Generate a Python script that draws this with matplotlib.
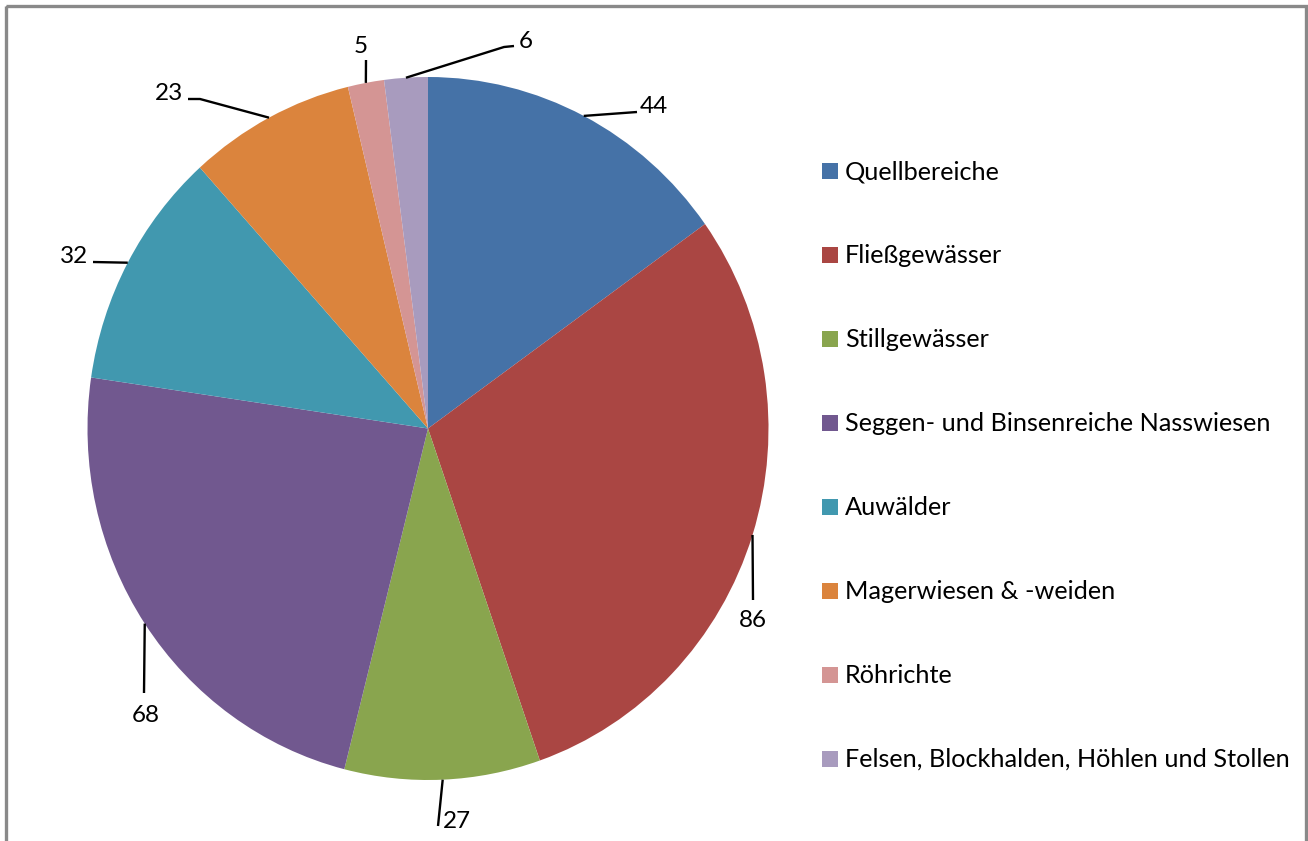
import numpy as np
import matplotlib
matplotlib.use("Agg")
import matplotlib.pyplot as plt
from matplotlib.patches import Rectangle

# ---- data ----
categories = [
    "Quellbereiche",
    "Fließgewässer",
    "Stillgewässer",
    "Seggen- und Binsenreiche Nasswiesen",
    "Auwälder",
    "Magerwiesen & -weiden",
    "Röhrichte",
    "Felsen, Blockhalden, Höhlen und Stollen",
]
values = [44, 86, 27, 68, 32, 23, 5, 6]
colors = ["#4572A7", "#AA4643", "#89A54E", "#71588F",
          "#4198AF", "#DB843D", "#D49594", "#A89BBE"]

# ---- layout (pixel coordinates, origin top-left) ----
W, H = 1308, 841
CX, CY, RX, RY = 428, 428.5, 340.5, 351.5
FONT = "Lato"
FS_LEG = 18.2
FS_LAB = 17.5

# label leader layout: (extra elbow points..., end point), text pos, ha
label_layout = [
    ([(637, 112)], (640, 113), "left"),
    ([(753, 600)], (753, 627), "center"),
    ([(438, 826)], (443, 828), "left"),
    ([(144, 693)], (146, 722), "center"),
    ([(93, 262)], (88, 263), "right"),
    ([(200, 99), (188, 99)], (183, 100), "right"),
    ([(366, 60)], (361, 53), "center"),
    ([(504, 47), (514, 46)], (519, 48), "left"),
]

fig = plt.figure(figsize=(W / 100, H / 100), dpi=100)
fig.patch.set_facecolor("white")

# pie axes (slightly stretched vertically like the reference)
ax = fig.add_axes([(CX - RX) / W, (H - CY - RY) / H, 2 * RX / W, 2 * RY / H])
wedges, _ = ax.pie(values, colors=colors, startangle=90, counterclock=False,
                   radius=1, wedgeprops=dict(linewidth=0, antialiased=True))
ax.set_aspect("auto")
ax.set_xlim(-1, 1)
ax.set_ylim(-1, 1)
ax.axis("off")

# overlay axes in pixel coords
ov = fig.add_axes([0, 0, 1, 1], zorder=5)
ov.set_xlim(0, W)
ov.set_ylim(H, 0)
ov.axis("off")
ov.patch.set_alpha(0)

# frame border
ov.add_patch(Rectangle((6, 6), 1300, 900, fill=False, edgecolor="#898989",
                       linewidth=2.4, clip_on=False))

# data labels with leader lines
for w, v, (pts, tpos, ha) in zip(wedges, values, label_layout):
    mid = np.deg2rad((w.theta1 + w.theta2) / 2)
    ax_x, ax_y = w.r * np.cos(mid), w.r * np.sin(mid)
    px = CX + RX * ax_x
    py = CY - RY * ax_y
    xs = [px] + [p[0] for p in pts]
    ys = [py] + [p[1] for p in pts]
    ov.plot(xs, ys, color="black", linewidth=1.7, solid_capstyle="butt")
    ov.text(tpos[0], tpos[1], str(v), ha=ha, va="baseline",
            fontsize=FS_LAB, family=FONT, color="black")

# legend
leg_x, leg_y0, leg_dy, sq = 822, 163, 84, 16
for i, (c, name) in enumerate(zip(colors, categories)):
    y = leg_y0 + i * leg_dy
    ov.add_patch(Rectangle((leg_x, y), sq, sq, facecolor=c, edgecolor="none"))
    ov.text(leg_x + 23, y + sq, name, ha="left", va="baseline",
            fontsize=FS_LEG, family=FONT, color="black")

fig.savefig("out.png", dpi=100)
